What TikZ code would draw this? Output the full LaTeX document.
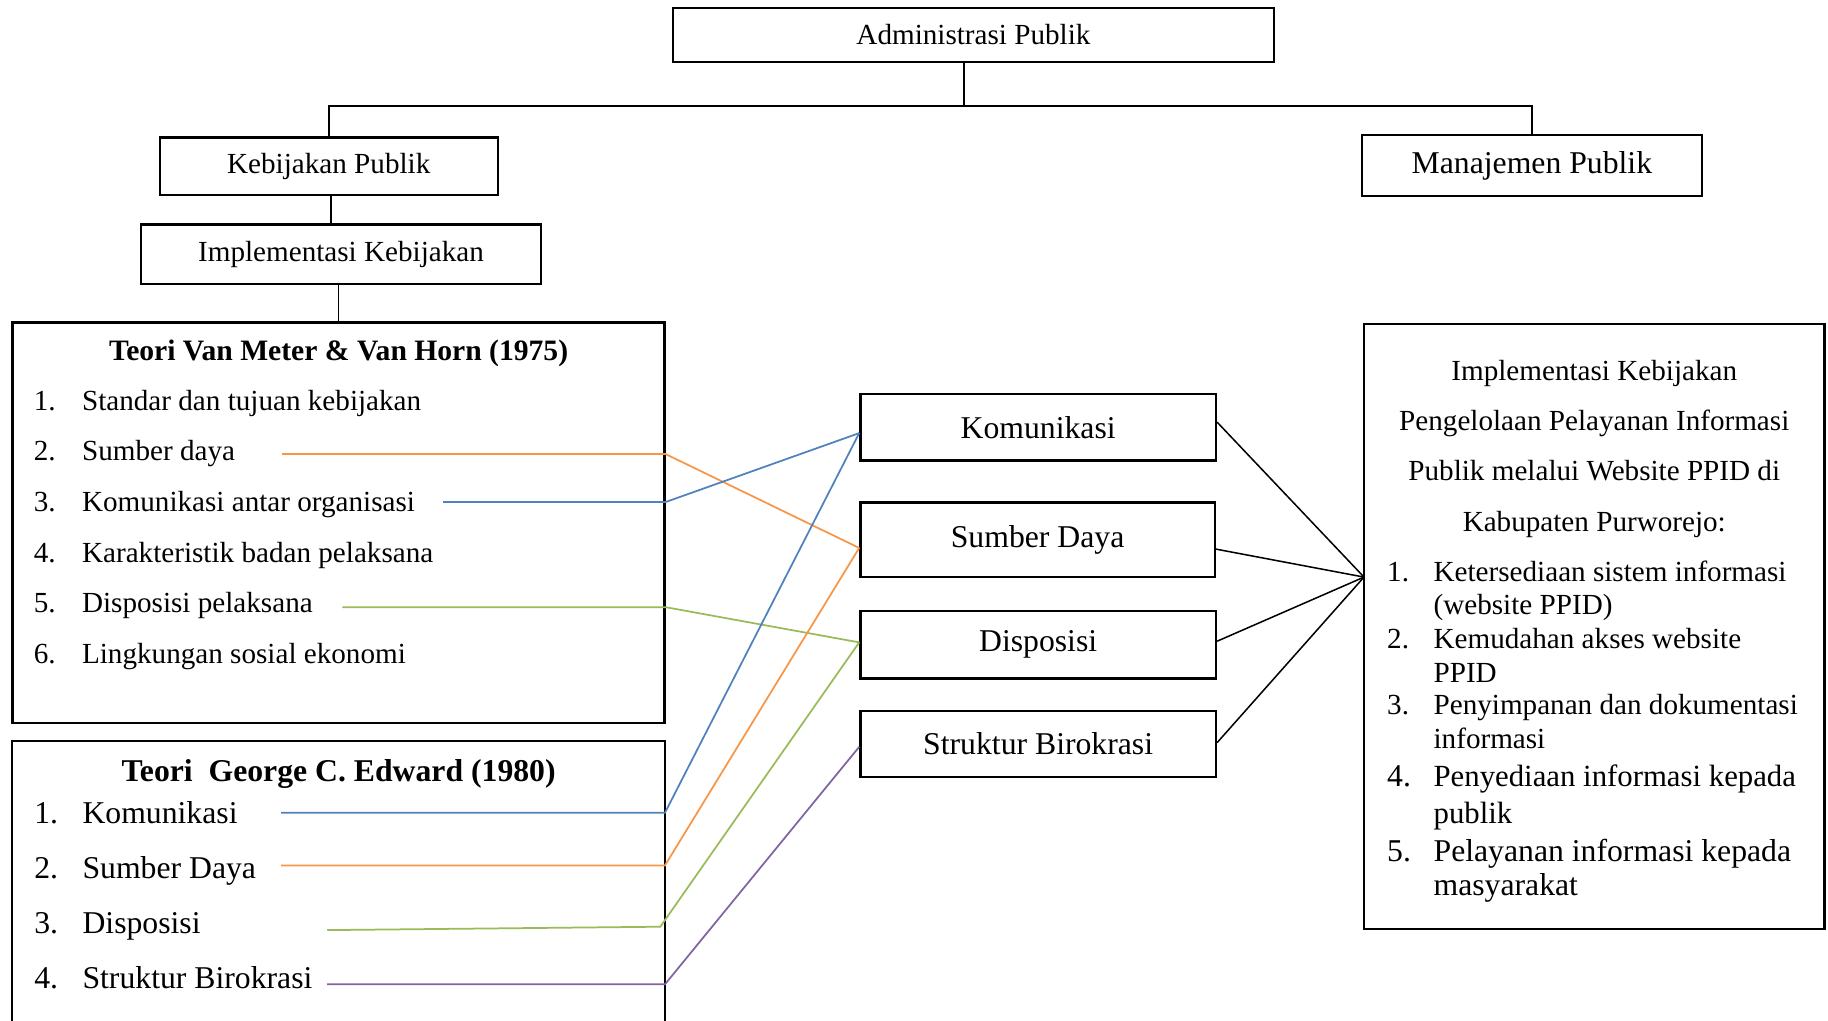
\documentclass[tikz,border=0pt]{standalone}
\usepackage{fontspec}
\setmainfont{Liberation Serif}
\usepackage{tikz}

\definecolor{lblue}{HTML}{4F81BD}
\definecolor{lorange}{HTML}{F79646}
\definecolor{lgreen}{HTML}{9BBB59}
\definecolor{lpurple}{HTML}{8064A2}
\newcommand{\normtxt}{\fontsize{12.5}{15}\selectfont}
\newcommand{\bigtxt}{\fontsize{13.6}{16}\selectfont}

\begin{document}
\begin{tikzpicture}
  [x=0.5pt,y=-0.5pt,font=\normtxt,
   box/.style={draw,line width=1pt,inner sep=0pt},
   item/.style={anchor=base west,inner sep=0pt},
   conn/.style={line width=0.65pt},
   col/.style={line width=0.75pt}]
  \useasboundingbox (0,0) rectangle (1568,875);

  \node[box,minimum width=258pt,minimum height=23pt] (adm) at (835,30) {Administrasi Publik};
  \node[box,minimum width=145pt,minimum height=24.5pt] (kp) at (282,142.5) {Kebijakan Publik};
  \node[box,minimum width=146pt,minimum height=26pt,font=\bigtxt] (mp) at (1314,142) {Manajemen Publik};
  \node[box,minimum width=171.5pt,minimum height=25.5pt] (ik) at (292.5,218) {Implementasi Kebijakan};

  \node[box,minimum width=279.6pt,minimum height=171.75pt] (vm) at (290.4,448.3) {};
  \node[inner sep=0pt,minimum width=279.6pt,minimum height=119.5pt] (ge) at (290.4,755.5) {};
  \draw[line width=1pt] (ge.south west) |- (ge.north east) -- (ge.south east);

  \node[anchor=base,inner sep=0pt,font=\fontsize{12.7}{15}\selectfont\bfseries] (vmt) at (290.5,308.8) {Teori Van Meter \& Van Horn (1975)};
  \foreach \i/\y/\t in {1/351.7/Standar dan tujuan kebijakan,2/395.2/Sumber daya,3/438.7/Komunikasi antar organisasi,
                        4/482.2/Karakteristik badan pelaksana,5/525.7/Disposisi pelaksana,6/569.2/Lingkungan sosial ekonomi}
  {
    \node[item] at (28.7,\y) {\i.};
    \node[item] (vm\i) at (70,\y) {\t};
  }

  \node[anchor=base,inner sep=0pt,font=\bigtxt\bfseries] (get) at (290.5,670) {Teori\ \ George C. Edward (1980)};
  \foreach \i/\y/\t in {1/706.2/Komunikasi,2/753.4/Sumber Daya,3/800.6/Disposisi,4/847.8/Struktur Birokrasi}
  {
    \node[item,font=\bigtxt] at (29,\y) {\i.};
    \node[item,font=\bigtxt] (ge\i) at (70.4,\y) {\t};
  }

  \node[box,minimum width=152.5pt,minimum height=28.5pt,font=\bigtxt] (kom) at (890.5,366.5) {Komunikasi};
  \node[box,minimum width=152pt,minimum height=32pt,font=\bigtxt] (sd) at (890,463) {Sumber Daya};
  \node[box,minimum width=152.5pt,minimum height=29pt,font=\bigtxt] (dis) at (890.5,553) {Disposisi};
  \node[box,minimum width=152.5pt,minimum height=28.25pt,font=\bigtxt] (sb) at (890.5,638) {Struktur Birokrasi};

  \node[box,minimum width=197.5pt,minimum height=259.5pt] (out) at (1367.5,537.5) {};
  \foreach \y/\t in {326.3/Implementasi Kebijakan,369.1/Pengelolaan Pelayanan Informasi,
                     411.9/Publik melalui Website PPID di,455.5/Kabupaten Purworejo:}
    \node[anchor=base,inner sep=0pt] at (1367.5,\y) {\t};
  \foreach \i/\y in {1/498.7,2/556,3/612.5}
    \node[item] at (1189.5,\y) {\i.};
  \foreach \i/\y in {4/674.7,5/739}
    \node[item,font=\bigtxt] at (1189.5,\y) {\i.};
  \foreach \y/\t in {498.7/Ketersediaan sistem informasi,526.8/{(website PPID)},556/Kemudahan akses website,
                     585.2/PPID,612.5/Penyimpanan dan dokumentasi,641.7/informasi}
    \node[item] at (1229.3,\y) {\t};
  \foreach \y/\t in {674.7/Penyediaan informasi kepada,706/publik}
    \node[item,font=\fontsize{13.2}{16}\selectfont] at (1229.3,\y) {\t};
  \foreach \y/\t in {739/Pelayanan informasi kepada,768.2/masyarakat}
    \node[item,font=\bigtxt] at (1229.3,\y) {\t};

  \coordinate (fork) at (827,91);
  \draw[conn] (adm.south -| fork) -- (fork);
  \draw[conn] (kp.north) |- (fork) -| (mp.north);
  \draw[conn] ([xshift=1pt]kp.south) -- ([xshift=1pt]kp.south |- ik.north);
  \draw[conn] ([xshift=-1pt]ik.south) -- ([xshift=-1pt]ik.south |- vm.north);

  \coordinate (kom-in) at ([yshift=-2.5pt]kom.west);
  \coordinate (sd-in) at ([yshift=-3.5pt]sd.west);
  \coordinate (dis-in) at ([yshift=1pt]dis.west);
  \coordinate (sb-in) at ([yshift=-1.3pt]sb.west);
  \coordinate (kom-out) at ([yshift=2.2pt]kom.east);
  \coordinate (sd-out) at ([yshift=-4pt]sd.east);
  \coordinate (dis-out) at ([yshift=1.5pt]dis.east);
  \coordinate (sb-out) at ([yshift=0.5pt]sb.east);

  \coordinate (meet) at (1170,495);
  \foreach \n in {kom,sd,dis,sb}
    \draw[conn] (\n-out) -- (meet);

  \coordinate (a2) at (242,389.5);
  \coordinate (a3) at (380,430.6);
  \coordinate (a5) at (293.6,520.8);
  \coordinate (b1) at (241.2,697.1);
  \coordinate (b2) at (241.2,742.3);
  \coordinate (b4) at (280.7,844.3);
  \coordinate (b3) at (280.7,797.8);
  \foreach \s/\b/\c/\t in {a2/vm/lorange/sd,a3/vm/lblue/kom,a5/vm/lgreen/dis,
                           b1/ge/lblue/kom,b2/ge/lorange/sd,b4/ge/lpurple/sb}
    \draw[col,\c] (\s) -- (\s -| \b.east) -- (\t-in);
  \draw[col,lgreen] (b3) -- ([shift={(-2pt,1.45pt)}]b3 -| ge.east) -- (dis-in);
\end{tikzpicture}
\end{document}
